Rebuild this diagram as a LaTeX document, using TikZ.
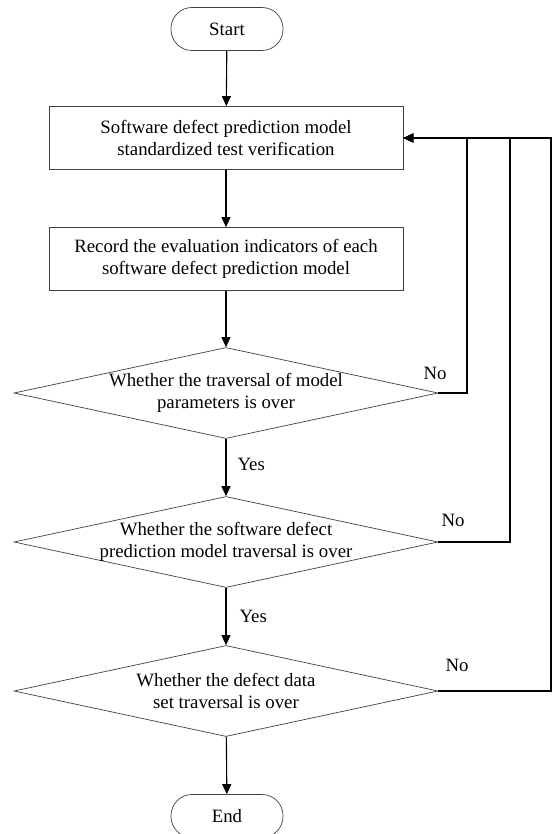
\documentclass[tikz,border=0pt]{standalone}
\usepackage{fontspec}
\setmainfont{Liberation Serif}
\usetikzlibrary{shapes.geometric,arrows.meta}

\begin{document}
\begin{tikzpicture}[x=1pt,y=-1pt,font=\fontsize{18.8}{22}\selectfont]
  \tikzset{term/.style = {shape=rectangle,rounded corners=21pt,draw=black!75,line width=0.7pt,minimum width=112pt,minimum height=43pt,inner sep=1pt}}
  \tikzset{proc/.style = {shape=rectangle,draw=black!75,line width=0.7pt,minimum width=354pt,minimum height=63pt,align=center,inner sep=1pt}}
  \tikzset{decide/.style = {shape=diamond,draw=black!75,line width=0.7pt,aspect=4.7,minimum width=424pt,minimum height=91pt,inner sep=0pt}}
  \tikzset{flow/.style = {-{Triangle[length=10pt,width=9pt]},line width=1.1pt,black}}
  \tikzset{lbl/.style = {inner sep=1pt}}

  \useasboundingbox (0,0) rectangle (554,834);

	\node[term] (start) at (227,29) {Start};

	\node[proc] (test) at (226,138) {Software defect prediction model\\standardized test verification};

	\node[proc] (record) at (226,259) {Record the evaluation indicators of each\\software defect prediction model};

	\node[decide,label={[align=center]center:Whether the traversal of model\\parameters is over}] (param) at (226,393) {};

	\node[decide,label={[align=center]center:Whether the software defect\\prediction model traversal is over}] (model) at (226,542) {};

	\node[decide,label={[align=center]center:Whether the defect data\\set traversal is over}] (data) at (226,691) {};

	\node[term] (end) at (227,816) {End};

	% loop-back corners
	\coordinate (c1) at (467,138);
	\coordinate (c2) at (510,138);
	\coordinate (c3) at (551,138);

    \foreach \from/\to in {start/test,test/record,record/param}
    \draw[flow] (\from) -- (\to);

    \draw[flow] (param) -- node[right,lbl,xshift=10pt,pos=0.45] {Yes} (model);
    \draw[flow] (model) -- node[right,lbl,xshift=12pt,pos=0.5] {Yes} (data);
    \draw[flow] (data) -- (end);

    \foreach \from/\via in {param/c1,model/c2,data/c3}
    \draw[flow] (\from.east) -| (\via) -- (test.east);

	\node[lbl] (no1) at (435,373) {No};
	\node[lbl] (no2) at (453,520) {No};
	\node[lbl] (no3) at (457,665) {No};

\end{tikzpicture}
\end{document}
